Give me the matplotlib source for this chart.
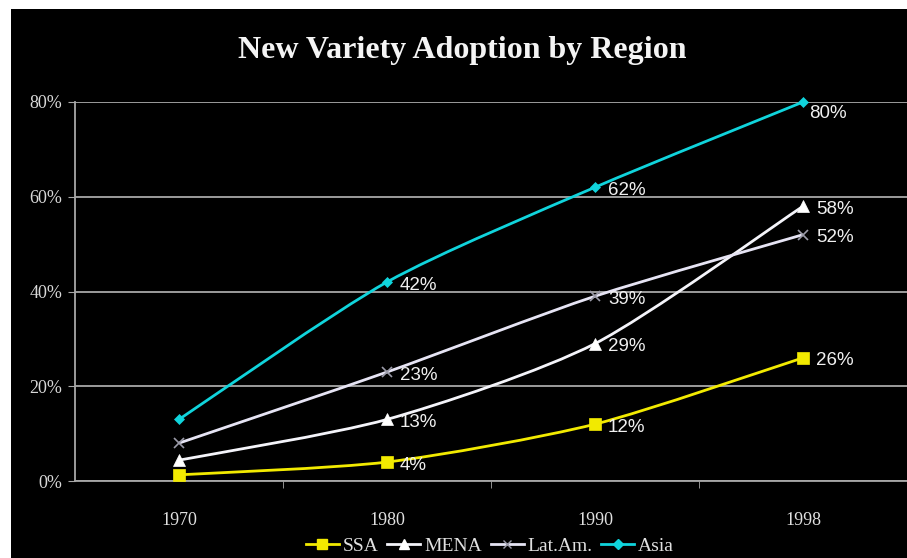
import numpy as np
import matplotlib.pyplot as plt
from matplotlib.path import Path
from matplotlib.patches import PathPatch, Rectangle
from matplotlib.lines import Line2D

# 数据
years = ['1970', '1980', '1990', '1998']
ssa = [0.013, 0.04, 0.12, 0.26]
mena = [0.044, 0.13, 0.29, 0.58]
latam = [0.08, 0.23, 0.39, 0.52]
asia = [0.13, 0.42, 0.62, 0.80]
y_ticks = [0.0, 0.2, 0.4, 0.6, 0.8]
y_tick_labels = ['0%', '20%', '40%', '60%', '80%']


def smooth_path(xs, ys, k=8.0):
    """Excel风格的平滑曲线 (Catmull-Rom -> 三次贝塞尔)"""
    pts = np.column_stack([xs, ys]).astype(float)
    n = len(pts)
    verts = [pts[0]]
    codes = [Path.MOVETO]
    for i in range(n - 1):
        p0 = pts[i - 1] if i > 0 else pts[i]
        p1 = pts[i]
        p2 = pts[i + 1]
        p3 = pts[i + 2] if i + 2 < n else pts[i + 1]
        c1 = p1 + (p2 - p0) / k
        c2 = p2 - (p3 - p1) / k
        verts += [c1, c2, p2]
        codes += [Path.CURVE4] * 3
    return Path(verts, codes)


series = [
    ('SSA', ssa, '#f2ea00', 's', 8, '#f2ea00'),
    ('MENA', mena, '#f4f4fa', '^', 8, '#ffffff'),
    ('Lat.Am.', latam, '#e6e4f4', 'x', 7, '#9a9aa8'),
    ('Asia', asia, '#10d4dc', 'D', 5.5, '#10d4dc'),
]

fig = plt.figure(figsize=(9.07, 5.58), dpi=100)
fig.patch.set_facecolor('white')
fig.patches.append(Rectangle((11 / 907, 0), 1 - 11 / 907, 1 - 9 / 558,
                             transform=fig.transFigure, facecolor='black',
                             edgecolor='none', zorder=-10))

ax = fig.add_axes([75 / 907, 77 / 558, 832 / 907, 379 / 558])
ax.set_facecolor('black')
x = np.arange(len(years))

for name, vals, col, mk, ms, mcol in series:
    ax.add_patch(PathPatch(smooth_path(x, vals), facecolor='none', edgecolor=col,
                           lw=2.0, zorder=3, clip_on=False))
    ax.plot(x, vals, linestyle='none', marker=mk, markersize=ms, color=mcol,
            markeredgecolor=mcol, markeredgewidth=1.2 if mk == 'x' else 0.5,
            zorder=4, clip_on=False)

# 数据标签 (1980年以后)
for name, vals, col, mk, ms, mcol in series:
    for i in range(1, len(vals)):
        dx, dy = 13, -3
        if vals[i] >= 0.8:
            dx, dy = 6, -12
        ax.annotate(f'{vals[i] * 100:.0f}%', (x[i], vals[i]),
                    xytext=(dx, dy), textcoords='offset pixels',
                    ha='left', va='center', color='#f0f0f0',
                    fontsize=13.5, family='Liberation Sans', zorder=5)

ax.set_xlim(-0.5, len(years) - 0.5)
ax.set_ylim(0, 0.8)
ax.set_yticks(y_ticks)
ax.set_yticklabels(y_tick_labels, family='Liberation Serif', fontsize=13, color='#d8d8d8')
ax.set_xticks(x)
ax.set_xticklabels(years, family='Liberation Serif', fontsize=13, color='#e0e0e0')
ax.set_xticks(np.arange(0.5, len(years) - 0.5, 1), minor=True)
ax.tick_params(axis='x', which='major', length=0, pad=22)
ax.tick_params(axis='x', which='minor', length=5, color='#a8a8a8', direction='out')
ax.tick_params(axis='y', length=5, color='#a8a8a8', pad=4)
ax.grid(axis='y', color='#a8a8a8', lw=1.3, zorder=1)
ax.set_axisbelow(True)
for s in ['top', 'right']:
    ax.spines[s].set_visible(False)
ax.spines['left'].set_color('#a8a8a8')
ax.spines['bottom'].set_color('#a8a8a8')
ax.spines['left'].set_linewidth(1.3)
ax.spines['bottom'].set_linewidth(1.3)

fig.text(0.51, 0.91, 'New Variety Adoption by Region', ha='center', va='center',
         color='#f4f4f4', fontsize=23, fontweight='bold', family='Liberation Serif')

handles = [Line2D([0], [0], color=col, lw=2.0, marker=mk, markersize=ms * 0.9,
                  markerfacecolor=mcol, markeredgecolor=mcol)
           for name, vals, col, mk, ms, mcol in series]
leg = fig.legend(handles, [s[0] for s in series], loc='center', ncol=4,
                 bbox_to_anchor=(0.54, 0.022), frameon=False, handlelength=1.7,
                 columnspacing=0.45, handletextpad=0.2,
                 prop={'family': 'Liberation Serif', 'size': 14})
for t in leg.get_texts():
    t.set_color('#e0e0e0')

fig.savefig('out.png', dpi=100, facecolor=fig.get_facecolor())
